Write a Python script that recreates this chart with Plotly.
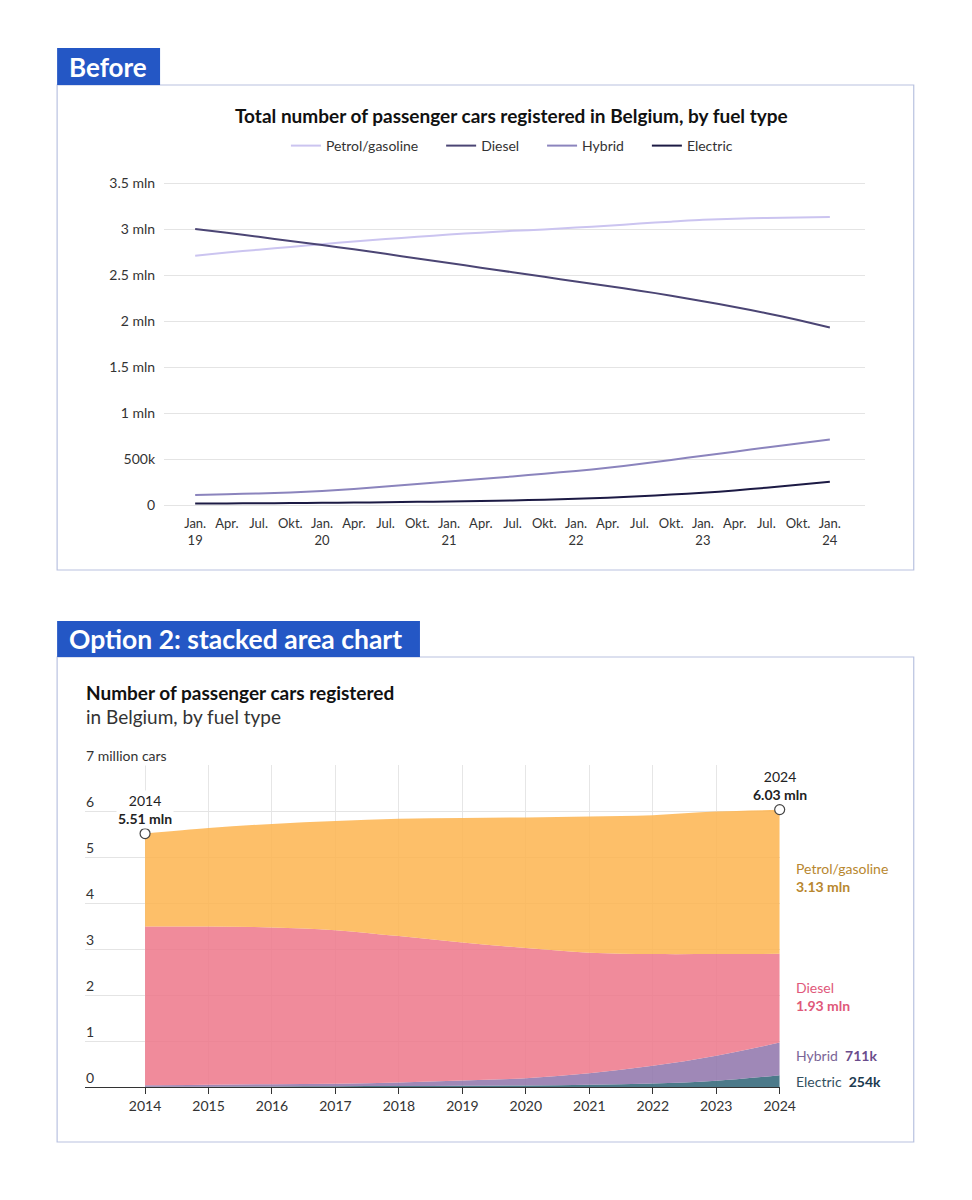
import plotly.graph_objects as go

# ---------------- DATA ----------------
# Top chart: quarterly, Jan 2019 .. Jan 2024 (millions)
quarter_labels = ["Jan.<br>19", "Apr.", "Jul.", "Okt.", "Jan.<br>20", "Apr.", "Jul.", "Okt.",
                  "Jan.<br>21", "Apr.", "Jul.", "Okt.", "Jan.<br>22", "Apr.", "Jul.", "Okt.",
                  "Jan.<br>23", "Apr.", "Jul.", "Okt.", "Jan.<br>24"]
petrol_q = [2.71, 2.745, 2.775, 2.805, 2.835, 2.865, 2.89, 2.915, 2.94, 2.96, 2.98, 2.995,
            3.015, 3.035, 3.06, 3.08, 3.10, 3.112, 3.12, 3.126, 3.13]
diesel_q = [3.00, 2.96, 2.915, 2.87, 2.825, 2.78, 2.73, 2.68, 2.63, 2.58, 2.53, 2.48,
            2.43, 2.38, 2.33, 2.275, 2.215, 2.152, 2.085, 2.01, 1.93]
hybrid_q = [0.11, 0.118, 0.125, 0.135, 0.152, 0.175, 0.2, 0.228, 0.255, 0.282, 0.31, 0.34,
            0.37, 0.405, 0.445, 0.49, 0.535, 0.58, 0.625, 0.668, 0.711]
electric_q = [0.015, 0.017, 0.019, 0.021, 0.024, 0.027, 0.030, 0.034, 0.038, 0.043, 0.050, 0.058,
              0.068, 0.080, 0.095, 0.113, 0.133, 0.158, 0.188, 0.22, 0.254]
top_yticks = [0, 0.5, 1, 1.5, 2, 2.5, 3, 3.5]
top_yticktext = ["0", "500k", "1 mln", "1.5 mln", "2 mln", "2.5 mln", "3 mln", "3.5 mln"]

# Bottom chart: yearly 2014..2024 (millions)
years = [2014, 2015, 2016, 2017, 2018, 2019, 2020, 2021, 2022, 2023, 2024]
electric_y = [0.005, 0.008, 0.012, 0.015, 0.020, 0.025, 0.035, 0.050, 0.075, 0.135, 0.254]
hybrid_y = [0.035, 0.042, 0.048, 0.055, 0.080, 0.115, 0.155, 0.250, 0.385, 0.545, 0.711]
diesel_y = [3.45, 3.44, 3.41, 3.34, 3.18, 3.00, 2.83, 2.62, 2.43, 2.21, 1.93]
petrol_y = [2.02, 2.14, 2.25, 2.37, 2.55, 2.71, 2.84, 2.96, 3.02, 3.10, 3.13]
bottom_yticks = [0, 1, 2, 3, 4, 5, 6]
total_start = 5.51
total_end = 6.03

OFF = 8        # default page body margin
SX = 0.9834    # horizontal scale observed in the photograph
W, H = 940, 1160
def px(x):
    return (x / SX - OFF) / W
def py(y):
    return 1 - (y - OFF) / H

FONT = "Lato"
fig = go.Figure()

# ---------------- TOP CHART ----------------
xq = list(range(len(quarter_labels)))
NB = "\u00a0" * 5
top_series = [("Petrol/gasoline" + NB, petrol_q, "#cbc4f0"),
              ("Diesel" + NB, diesel_q, "#4b4574"),
              ("Hybrid" + NB, hybrid_q, "#8b84bd"),
              ("Electric", electric_q, "#1c1a44")]
for name, vals, col in top_series:
    fig.add_trace(go.Scatter(x=xq, y=vals, name=name, mode="lines",
                             line=dict(color=col, width=2, shape="spline", smoothing=0.8),
                             xaxis="x", yaxis="y", hoverinfo="skip"))

# ---------------- BOTTOM CHART ----------------
bottom_series = [("Electric", electric_y, "rgba(46,100,119,0.86)"),
                 ("Hybrid", hybrid_y, "rgba(143,117,171,0.86)"),
                 ("Diesel", diesel_y, "rgba(237,120,139,0.86)"),
                 ("Petrol/gasoline", petrol_y, "rgba(253,180,80,0.86)")]
for name, vals, col in bottom_series:
    fig.add_trace(go.Scatter(x=years, y=vals, name=name, mode="lines",
                             stackgroup="one", fillcolor=col,
                             line=dict(width=0, shape="spline", color=col),
                             xaxis="x2", yaxis="y2", showlegend=False, hoverinfo="skip"))

fig.add_trace(go.Scatter(x=[years[0], years[-1]], y=[total_start, total_end], mode="markers",
                         marker=dict(size=10, color="white", line=dict(color="#444", width=1.2)),
                         xaxis="x2", yaxis="y2", showlegend=False, cliponaxis=False,
                         hoverinfo="skip"))

# ---------------- LAYOUT ----------------
top_bottom_px = 505 + 0.1 * 92
top_top_px = 183 - 0.1 * 92
bot_bottom_px = 1087
bot_top_px = 765 - 0.01 * 46

fig.update_layout(
    width=W, height=H,
    margin=dict(l=0, r=0, t=0, b=0),
    paper_bgcolor="white", plot_bgcolor="white",
    font=dict(family=FONT, color="#333", size=13),
    showlegend=True,
    legend=dict(orientation="h", x=px(512), xanchor="center", y=py(130), yanchor="top",
                font=dict(size=14, color="#333"), bgcolor="rgba(0,0,0,0)",
                traceorder="normal", itemwidth=30, tracegroupgap=0),
    xaxis=dict(domain=[px(164), px(865)], range=[-0.98, 21.1],
               tickvals=xq, ticktext=quarter_labels, tickangle=0,
               showgrid=False, zeroline=False, showline=False, ticks="",
               tickfont=dict(size=13, color="#333"), anchor="y", fixedrange=True),
    yaxis=dict(domain=[py(top_bottom_px), py(top_top_px)], range=[-0.1, 3.6],
               tickvals=top_yticks, ticktext=top_yticktext,
               showgrid=True, gridcolor="#e4e4e4", gridwidth=1, zeroline=False,
               showline=False, ticks="", tickfont=dict(size=14, color="#333"),
               ticklabelstandoff=8, anchor="x", fixedrange=True),
    xaxis2=dict(domain=[px(85), px(780)], range=[2013.055, 2024.002],
                tickvals=years, ticktext=[str(y) for y in years],
                showgrid=True, gridcolor="#e6e6e6", gridwidth=1, zeroline=False,
                showline=True, linecolor="#333", linewidth=1,
                ticks="outside", ticklen=6, tickcolor="#333",
                tickfont=dict(size=14, color="#333"), anchor="y2", fixedrange=True),
    yaxis2=dict(domain=[py(bot_bottom_px), py(bot_top_px)], range=[0, 7.01],
                tickvals=[1, 2, 3, 4, 5, 6, 7], showticklabels=False,
                showgrid=True, gridcolor="#e4e4e4", gridwidth=1, zeroline=False,
                showline=False, ticks="", anchor="x2", fixedrange=True),
)

shapes = []
annotations = []
BLUE = "#2457c5"
BORDER = "#b9c2e0"

# panel boxes
shapes.append(dict(type="rect", xref="paper", yref="paper", x0=px(57), x1=px(914),
                   y0=py(570), y1=py(85), line=dict(color=BORDER, width=1.2),
                   fillcolor="rgba(0,0,0,0)", layer="below"))
shapes.append(dict(type="rect", xref="paper", yref="paper", x0=px(57), x1=px(914),
                   y0=py(1142), y1=py(657), line=dict(color=BORDER, width=1.2),
                   fillcolor="rgba(0,0,0,0)", layer="below"))
# label tabs
shapes.append(dict(type="rect", xref="paper", yref="paper", x0=px(57), x1=px(160),
                   y0=py(85), y1=py(48), line=dict(width=0), fillcolor=BLUE, layer="below"))
shapes.append(dict(type="rect", xref="paper", yref="paper", x0=px(57), x1=px(420),
                   y0=py(657), y1=py(621), line=dict(width=0), fillcolor=BLUE, layer="below"))

annotations.append(dict(text="<b>Before</b>", xref="paper", yref="paper",
                        x=px(67), y=py(67), xanchor="left", yanchor="middle",
                        showarrow=False, font=dict(size=26, color="white")))
annotations.append(dict(text="<b>Option 2: stacked area chart</b>", xref="paper", yref="paper",
                        x=px(67), y=py(639), xanchor="left", yanchor="middle",
                        showarrow=False, font=dict(size=26.5, color="white")))

# top title
annotations.append(dict(text="<b>Total number of passenger cars registered in Belgium, by fuel type</b>",
                        xref="paper", yref="paper", x=px(512), y=py(116),
                        xanchor="center", yanchor="middle", showarrow=False,
                        font=dict(size=19, color="#111")))

# bottom title
annotations.append(dict(text="<b>Number of passenger cars registered</b>",
                        xref="paper", yref="paper", x=px(84), y=py(692),
                        xanchor="left", yanchor="middle", showarrow=False,
                        font=dict(size=19, color="#111")))
annotations.append(dict(text="in Belgium, by fuel type",
                        xref="paper", yref="paper", x=px(84), y=py(716),
                        xanchor="left", yanchor="middle", showarrow=False,
                        font=dict(size=19, color="#333")))

# bottom y labels (above gridlines, left)
for v in bottom_yticks:
    annotations.append(dict(text=str(v), xref="paper", yref="y2", x=px(84), y=v,
                            xanchor="left", yanchor="bottom", showarrow=False,
                            yshift=-1, font=dict(size=14, color="#333")))
annotations.append(dict(text="7 million cars", xref="paper", yref="y2", x=px(84), y=7,
                        xanchor="left", yanchor="bottom", showarrow=False, yshift=-1,
                        bgcolor="white", font=dict(size=14, color="#333")))

# start / end callouts
annotations.append(dict(text="2014<br><b>5.51 mln</b>", xref="x2", yref="y2",
                        x=years[0], y=total_start, xanchor="center", yanchor="bottom",
                        yshift=5, showarrow=False, bgcolor="white", borderpad=1,
                        font=dict(size=14, color="#222")))
annotations.append(dict(text="2024<br><b>6.03 mln</b>", xref="x2", yref="y2",
                        x=years[-1], y=total_end, xanchor="center", yanchor="bottom",
                        yshift=5, showarrow=False, borderpad=1,
                        font=dict(size=14, color="#222")))

# right-side series labels
lab = [
    ("Petrol/gasoline<br><b>3.13 mln</b>", 877, "#b8872f"),
    ("Diesel<br><b>1.93 mln</b>", 996, "#e0587a"),
]
for t, ypix, col in lab:
    annotations.append(dict(text=t, xref="paper", yref="paper", x=px(794), y=py(ypix),
                            xanchor="left", yanchor="middle", showarrow=False, align="left",
                            font=dict(size=14, color=col)))
annotations.append(dict(text="Hybrid  <b><span style='color:#6a4c8c'>711k</span></b>",
                        xref="paper", yref="paper", x=px(794), y=py(1055),
                        xanchor="left", yanchor="middle", showarrow=False,
                        font=dict(size=14, color="#7b6597")))
annotations.append(dict(text="Electric  <b><span style='color:#1c3a4f'>254k</span></b>",
                        xref="paper", yref="paper", x=px(794), y=py(1081),
                        xanchor="left", yanchor="middle", showarrow=False,
                        font=dict(size=14, color="#34505f")))

fig.update_layout(shapes=shapes, annotations=annotations)

fig.write_html("out.html")
